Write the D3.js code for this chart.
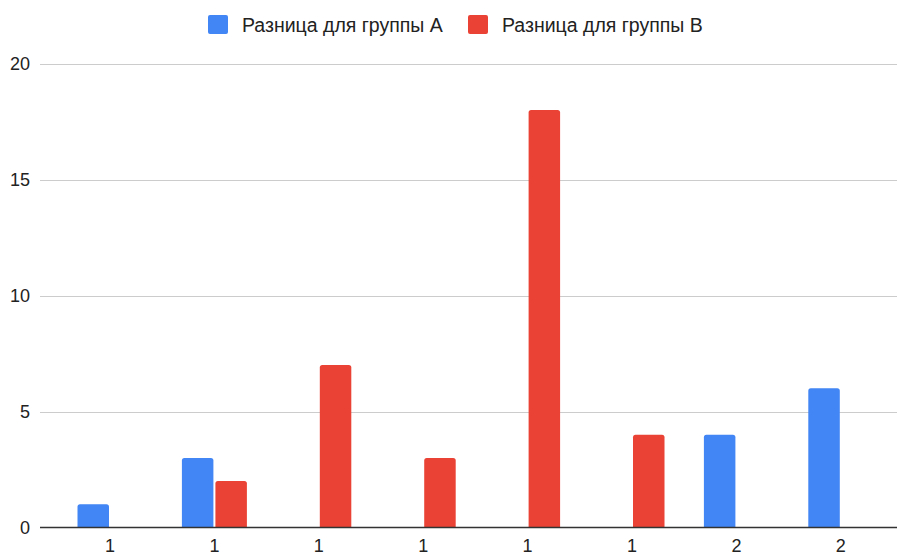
<!DOCTYPE html>
<html><head><meta charset="utf-8">
<script src="https://cdn.jsdelivr.net/npm/d3@7"></script>
<style>body{margin:0;background:#fff;}svg{display:block;font-family:Arial,"Liberation Sans",sans-serif;}</style>
</head><body>
<svg id="c" width="899" height="552"></svg>
<script>
const categories = ["1","1","1","1","1","1","2","2"];
const seriesNames = ["Разница для группы A","Разница для группы B"];
const groupA = [1,3,0,0,0,0,4,6];
const groupB = [0,2,7,3,18,4,0,0];
const yTicks = [0,5,10,15,20];
const colors = ["#4285F4","#EA4335"];

const svg = d3.select("#c");
const plotLeft = 40, plotRight = 897, plotTop = 63.5, plotBottom = 527.5;

const x = d3.scaleBand().domain(d3.range(categories.length)).range([57.8, 893]).paddingInner(0).paddingOuter(0);
const xs = d3.scaleBand().domain([0,1]).range([0, 65]).paddingInner(0.06);
const y = d3.scaleLinear().domain([0,20]).range([plotBottom, plotTop]);

// gridlines
svg.append("g").selectAll("line").data(yTicks.filter(d=>d>0)).join("line")
  .attr("x1", plotLeft).attr("x2", plotRight)
  .attr("y1", d=>Math.round(y(d))+0.5).attr("y2", d=>Math.round(y(d))+0.5)
  .attr("stroke","#cccccc").attr("stroke-width",1);

// y labels
svg.append("g").selectAll("text").data(yTicks).join("text")
  .attr("x", 30).attr("y", d=>y(d)).attr("dy","0.36em")
  .attr("text-anchor","end").attr("font-size",18).attr("fill","#222")
  .text(d=>d);

// bars
const data = categories.map((c,i)=>[groupA[i], groupB[i]]);
function barPath(x0, w, y0, y1, r){
  const h = y0 - y1;
  r = Math.min(r, h, w/2);
  return `M${x0},${y0}V${y1+r}Q${x0},${y1} ${x0+r},${y1}H${x0+w-r}Q${x0+w},${y1} ${x0+w},${y1+r}V${y0}Z`;
}
const g = svg.append("g");
data.forEach((vals,i)=>{
  const cx = x(i) + x.bandwidth()/2;
  vals.forEach((v,s)=>{
    if(v<=0) return;
    const x0 = cx - 32.5 + xs(s);
    g.append("path").attr("d", barPath(x0, xs.bandwidth(), y(0), y(v), 2.5))
      .attr("fill", colors[s]);
  });
});

// baseline
svg.append("line").attr("x1",plotLeft).attr("x2",plotRight)
  .attr("y1",y(0)).attr("y2",y(0)).attr("stroke","#333").attr("stroke-width",1.5);

// x labels
svg.append("g").selectAll("text").data(categories).join("text")
  .attr("x",(d,i)=>x(i)+x.bandwidth()/2).attr("y",552)
  .attr("text-anchor","middle").attr("font-size",18).attr("fill","#222")
  .text(d=>d);

// legend
const legend = [{x:208, name:seriesNames[0], c:colors[0]},{x:468, name:seriesNames[1], c:colors[1]}];
const lg = svg.append("g");
legend.forEach(l=>{
  lg.append("rect").attr("x",l.x).attr("y",15).attr("width",20).attr("height",19).attr("rx",2).attr("fill",l.c);
  lg.append("text").attr("x",l.x+34).attr("y",24.5).attr("dy","0.36em").attr("font-size",19.5).attr("fill","#222").text(l.name);
});
</script>
</body></html>
